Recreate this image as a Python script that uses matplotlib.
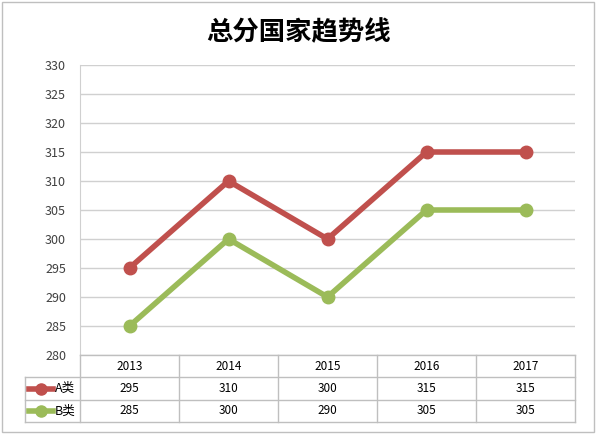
import matplotlib
matplotlib.use("Agg")
import matplotlib.pyplot as plt
from matplotlib.lines import Line2D

plt.rcParams['font.family'] = ['Noto Sans CJK SC', 'DejaVu Sans']

years = ["2013", "2014", "2015", "2016", "2017"]
series_names = ["A类", "B类"]
a_vals = [295, 310, 300, 315, 315]
b_vals = [285, 300, 290, 305, 305]
colors = ["#C0504D", "#9BBB59"]
title = "总分国家趋势线"

W, H = 596, 434
fig = plt.figure(figsize=(W/100, H/100), dpi=100)
fig.patches.append(plt.Rectangle((2/W, 2/H), 1-4/W, 1-4/H, transform=fig.transFigure,
                                 fill=False, edgecolor="#BFBFBF", lw=1))
L, R, T, B = 80, 575, 65, 355
ax = fig.add_axes([L/W, 1-B/H, (R-L)/W, (B-T)/H])
x = list(range(len(years)))
for vals, c in zip([a_vals, b_vals], colors):
    ax.plot(x, vals, color=c, lw=4, marker='o', ms=9, solid_joinstyle='miter')
ax.set_xlim(-0.5, len(years)-0.5)
ax.set_ylim(280, 330)
ax.set_yticks(range(280, 331, 5))
ax.grid(axis='y', color="#D0D0D0", lw=1)
ax.set_axisbelow(True)
ax.tick_params(axis='y', length=0, labelsize=9, colors="#404040", pad=10)
ax.set_xticks([])
for s in ['top', 'right', 'bottom']:
    ax.spines[s].set_visible(False)
ax.spines['left'].set_color("#D0D0D0")

fig.text(0.5, 1-33/H, title, ha='center', va='center', fontsize=19, fontweight='bold')

# data table
gc = "#BFBFBF"
rows_y = [355, 377, 400, 422]
def fx(px): return px/W
def fy(py): return 1-py/H
tl = 25
for i, yy in enumerate(rows_y):
    x0 = L if i == 0 else tl
    fig.add_artist(Line2D([fx(x0), fx(R)], [fy(yy), fy(yy)], color=gc, lw=1))
band = (R-L)/len(years)
for k in range(len(years)+1):
    xx = L + k*band
    fig.add_artist(Line2D([fx(xx), fx(xx)], [fy(355), fy(422)], color=gc, lw=1))
fig.add_artist(Line2D([fx(tl), fx(tl)], [fy(377), fy(422)], color=gc, lw=1))
for k, yr in enumerate(years):
    fig.text(fx(L+(k+0.5)*band), fy(366), yr, ha='center', va='center', fontsize=8.5)
for r, (name, vals, c) in enumerate(zip(series_names, [a_vals, b_vals], colors)):
    yc = fy((rows_y[r+1]+rows_y[r+2])/2)
    fig.add_artist(Line2D([fx(29), fx(53)], [yc, yc], color=c, lw=4))
    fig.add_artist(Line2D([fx(41)], [yc], color=c, marker='o', ms=8))
    fig.text(fx(55), yc, name, ha='left', va='center', fontsize=9)
    for k, v in enumerate(vals):
        fig.text(fx(L+(k+0.5)*band), yc, str(v), ha='center', va='center', fontsize=8.5)

fig.savefig("out.png", dpi=100)
